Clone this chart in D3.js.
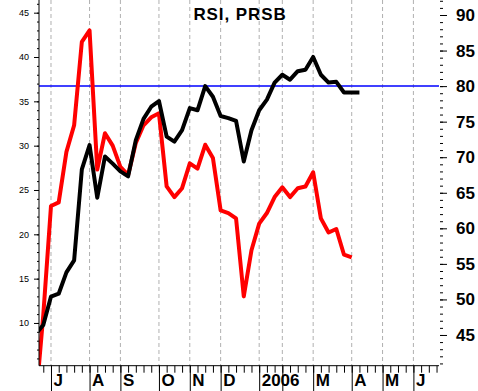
<!DOCTYPE html>
<html><head><meta charset="utf-8">
<script src="https://cdn.jsdelivr.net/npm/d3@7"></script>
<style>
html,body{margin:0;padding:0;background:#fff;}
svg{display:block;}
</style></head>
<body>
<svg id="c" width="478" height="391"></svg>
<script>
// ---- data ----
const title = "RSI, PRSB";
const weeksRed = d3.range(-2, 40);   // week index, 0 = first week of July 2005
const weeksBlack = d3.range(-2, 41);
const prsb = [0.8, 10.9, 23.2, 23.6, 29.3, 32.3, 41.7, 43.0, 27.3, 31.4, 30.0, 27.6, 26.7, 30.3, 32.3, 33.2, 33.65, 25.4, 24.2, 25.2, 28.0, 27.4, 30.1, 28.6, 22.7, 22.4, 21.8, 13.0, 18.2, 21.2, 22.4, 24.2, 25.3, 24.2, 25.2, 25.4, 27.0, 21.8, 20.2, 20.6, 17.7, 17.4];
const rsi = [45.1, 46.4, 50.4, 50.8, 53.8, 55.5, 68.3, 71.7, 64.3, 70.1, 69.1, 68.0, 67.3, 72.4, 75.4, 77.1, 77.9, 72.9, 72.2, 73.8, 76.9, 76.6, 80.0, 78.5, 75.8, 75.5, 75.1, 69.4, 73.8, 76.6, 78.1, 80.5, 81.6, 80.9, 82.1, 82.3, 84.1, 81.6, 80.5, 80.6, 79.1, 79.1, 79.1];
const rsiLevel = 80;
const monthWeeks = [0, 5, 9, 14, 18, 22, 27, 30, 34, 39, 43, 47];
const monthLabels = ["J", "A", "S", "O", "N", "D", "2006", "", "M", "A", "M", "J"];
const leftTicks = [10, 15, 20, 25, 30, 35, 40, 45];
const rightTicks = [45, 50, 55, 60, 65, 70, 75, 80, 85, 90];

// ---- layout ----
const L = 39, R = 439, T = 0, B = 365.7;
const svg = d3.select("#c");
const x = d3.scaleLinear().domain([-1.556, 50.32]).range([L, R]);
const yL = d3.scaleLinear().domain([5.18, 46.43]).range([B, T]);
const yR = d3.scaleLinear().domain([40.68, 92.11]).range([B, T]);

svg.append("defs").append("clipPath").attr("id", "clip")
  .append("rect").attr("x", L).attr("y", T).attr("width", R - L).attr("height", B - T);

// gridlines
svg.append("g").selectAll("line").data(monthWeeks).join("line")
  .attr("x1", d => x(d)).attr("x2", d => x(d)).attr("y1", T).attr("y2", B)
  .attr("stroke", "#b0b0b0").attr("stroke-width", 1).attr("stroke-dasharray", "4,3");

// blue level line
svg.append("line").attr("x1", L).attr("x2", R).attr("y1", yR(rsiLevel)).attr("y2", yR(rsiLevel))
  .attr("stroke", "#0000ff").attr("stroke-width", 1.5);

// lines
const g = svg.append("g").attr("clip-path", "url(#clip)");
const lineRed = d3.line().x((d, i) => x(weeksRed[i])).y(d => yL(d));
const lineBlack = d3.line().x((d, i) => x(weeksBlack[i])).y(d => yR(d));
g.append("path").datum(prsb).attr("d", lineRed).attr("fill", "none")
  .attr("stroke", "#ff0000").attr("stroke-width", 4).attr("stroke-linejoin", "round");
g.append("path").datum(rsi).attr("d", lineBlack).attr("fill", "none")
  .attr("stroke", "#000").attr("stroke-width", 4).attr("stroke-linejoin", "round");

// left axis
const gl = svg.append("g").attr("transform", `translate(${L},0)`);
gl.call(d3.axisLeft(yL).tickValues(d3.range(6, 47)).tickSize(2).tickFormat(""));
const glM = svg.append("g").attr("transform", `translate(${L},0)`);
glM.call(d3.axisLeft(yL).tickValues(leftTicks).tickSize(5).tickPadding(5).tickFormat(d3.format("d")));
glM.select(".domain").remove();
glM.selectAll("text").attr("font-family", "Arial, 'Liberation Sans', sans-serif").attr("font-size", 9);
gl.select(".domain").attr("d", `M0,${T}V${B}`);

// right axis (no domain line)
const gr = svg.append("g").attr("transform", `translate(${R + 1},0)`);
gr.call(d3.axisRight(yR).tickValues(d3.range(41, 93)).tickSize(3).tickFormat(""));
gr.select(".domain").remove();
const grM = svg.append("g").attr("transform", `translate(${R + 1},0)`);
grM.call(d3.axisRight(yR).tickValues(rightTicks).tickSize(7).tickPadding(9).tickFormat(d3.format("d")));
grM.select(".domain").remove();
grM.selectAll("text").attr("font-family", "Arial, 'Liberation Sans', sans-serif")
  .attr("font-size", 17).attr("font-weight", "bold");

// bottom axis
const gb = svg.append("g").attr("transform", `translate(0,${B})`);
gb.call(d3.axisBottom(x).tickValues(d3.range(-1, 51)).tickSize(7).tickFormat(""));
gb.select(".domain").attr("d", `M${L},0H${R}`);
const gbM = svg.append("g").attr("transform", `translate(0,${B})`);
gbM.call(d3.axisBottom(x).tickValues(monthWeeks).tickSize(26).tickFormat(""));
gbM.select(".domain").remove();
svg.append("g").selectAll("text").data(monthWeeks).join("text")
  .attr("x", d => x(d) + 2.5).attr("y", 386)
  .text((d, i) => monthLabels[i])
  .attr("font-family", "Arial, 'Liberation Sans', sans-serif")
  .attr("font-size", 17).attr("font-weight", "bold").attr("fill", "#000");

// title
svg.append("text").attr("x", 240).attr("y", 19.5).attr("text-anchor", "middle")
  .attr("font-family", "Arial, 'Liberation Sans', sans-serif").attr("font-size", 17)
  .attr("font-weight", "bold").attr("letter-spacing", 0.9).text(title);
</script>
</body></html>
